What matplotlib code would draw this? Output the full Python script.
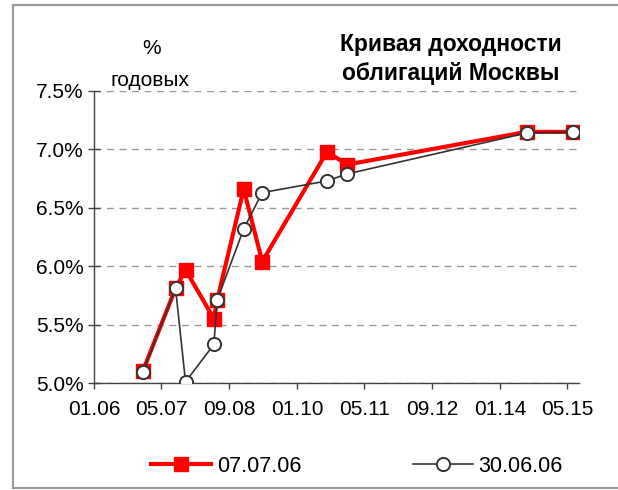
import datetime as dt
import matplotlib
matplotlib.use("Agg")
import matplotlib.pyplot as plt
import matplotlib.dates as mdates
from matplotlib.ticker import FuncFormatter

plt.rcParams['font.family'] = ['Liberation Sans', 'DejaVu Sans']

# Data
dates = ['2006-12-18', '2007-08-11', '2007-10-22', '2008-05-13', '2008-06-06',
         '2008-12-14', '2009-04-26', '2010-08-06', '2010-12-28', '2014-07-13',
         '2015-06-13']
yield_070706 = [5.10, 5.81, 5.97, 5.55, 5.71, 6.66, 6.04, 6.98, 6.87, 7.15, 7.15]
yield_300606 = [5.09, 5.81, 5.01, 5.33, 5.71, 6.32, 6.63, 6.73, 6.79, 7.14, 7.15]
tick_dates = ['2006-01-01', '2007-05-01', '2008-09-01', '2010-01-01',
              '2011-05-01', '2012-09-01', '2014-01-01', '2015-05-01']
y_ticks = [5.0, 5.5, 6.0, 6.5, 7.0, 7.5]

x = [dt.datetime.strptime(d, '%Y-%m-%d') for d in dates]
xt = [dt.datetime.strptime(d, '%Y-%m-%d') for d in tick_dates]

fig = plt.figure(figsize=(6.18, 4.90), dpi=100)
ax = fig.add_axes([94 / 618, 1 - 383 / 490, (579 - 94) / 618, (383 - 91) / 490])

ax.plot(x, yield_070706, color='#ff0000', lw=3, marker='s', ms=9.5,
        mfc='#ff0000', mec='#ff0000', label='07.07.06', zorder=3)
ax.plot(x, yield_300606, color='#333333', lw=1.2, marker='o', ms=9.5,
        mfc='white', mec='#333333', mew=1.4, label='30.06.06', zorder=4)

ax.set_ylim(5.0, 7.5)
ax.set_yticks(y_ticks)
ax.yaxis.set_major_formatter(FuncFormatter(lambda v, p: f'{v:.1f}%'))
ax.set_xlim(dt.datetime(2006, 1, 1), dt.datetime(2015, 7, 25))
ax.set_xticks(xt)
ax.xaxis.set_major_formatter(mdates.DateFormatter('%m.%y'))

ax.grid(axis='y', color='#999999', ls=(0, (5, 4)), lw=1)
ax.set_axisbelow(True)
for s in ['top', 'right']:
    ax.spines[s].set_visible(False)
for s in ['left', 'bottom']:
    ax.spines[s].set_color('#444444')
    ax.spines[s].set_linewidth(1)
ax.tick_params(axis='y', direction='inout', length=9, width=1, color='#444444',
               labelsize=15, pad=3)
ax.tick_params(axis='x', direction='out', length=4, width=1, color='#444444',
               labelsize=15, pad=8)

fig.text(152 / 618, 1 - 48 / 490, '%', ha='center', va='center', fontsize=15)
fig.text(150 / 618, 1 - 80 / 490, 'годовых', ha='center', va='center', fontsize=15)
fig.text(451 / 618, 1 - 59 / 490, 'Кривая доходности\nоблигаций Москвы',
         ha='center', va='center', fontsize=16.5, fontweight='bold', linespacing=1.35)

fig.legend(loc='center', bbox_to_anchor=(357 / 618, 1 - 466 / 490), ncol=2,
           frameon=False, fontsize=15.5, handlelength=2.8, columnspacing=5.2,
           handletextpad=0.25)

# outer frame (left, top, bottom only - the right edge is cut off)
left, top, bottom = 13 / 618, 1 - 5 / 490, 1 - 488 / 490
for xs, ys in [([left, left], [bottom, top]), ([left, 1.0], [top, top]),
               ([left, 1.0], [bottom, bottom])]:
    fig.add_artist(plt.Line2D(xs, ys, transform=fig.transFigure,
                              color='#999999', lw=1.5))

fig.savefig('out.png', dpi=100)
